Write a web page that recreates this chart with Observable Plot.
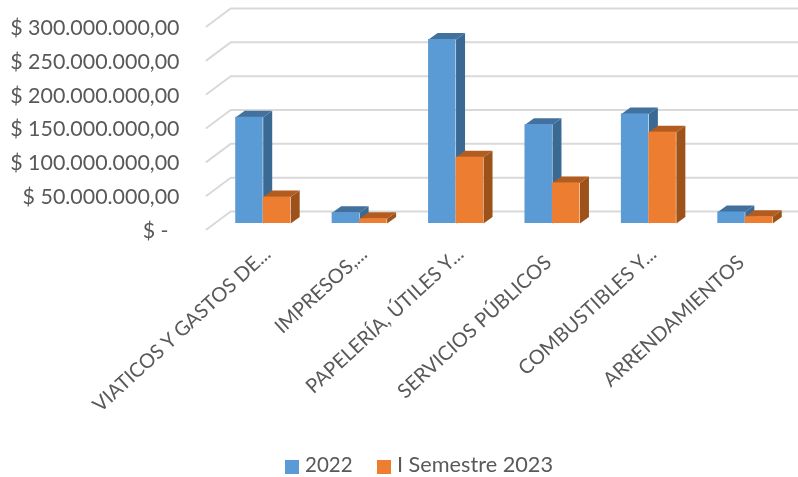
<!DOCTYPE html>
<html><head><meta charset="utf-8">
<script src="https://cdn.jsdelivr.net/npm/d3@7"></script>
<script src="https://cdn.jsdelivr.net/npm/@observablehq/plot@0.6"></script>
<style>
html,body{margin:0;padding:0;background:#fff;overflow:hidden}
#chart svg{display:block;filter:blur(.6px)}
#legend{position:absolute;left:0;top:455px;width:798px;height:22px;font:20.5px Lato,sans-serif;color:#595959;filter:blur(.4px)}
#legend i{position:absolute;top:5px;width:14px;height:14px}
#legend span{position:absolute;top:0;line-height:18px;white-space:nowrap}
</style></head><body>
<div id="chart"></div>
<div id="legend"></div>
<script>
const categories = ["VIATICOS Y GASTOS DE...", "IMPRESOS,...", "PAPELERÍA, ÚTILES Y...", "SERVICIOS PÚBLICOS", "COMBUSTIBLES Y...", "ARRENDAMIENTOS"];
const values2022 = [157e6, 16e6, 272e6, 146e6, 162e6, 17e6];
const valuesSem2023 = [39e6, 7e6, 98e6, 60e6, 135e6, 10e6];
const tickValues = [0, 50e6, 100e6, 150e6, 200e6, 250e6, 300e6];
const seriesNames = ["2022", "I Semestre 2023"];
const colors = {front: ["#5B9BD5", "#ED7D31"], side: ["#3A6A94", "#9C5219"], top: ["#41719C", "#B25C20"]};

const barW = 0.285, depthX = 0.0934, depthY = 9.6e6;
const wallFrontX = -0.088, wallBackX = 0.1625, gridEndX = 6.06;
const wallFrontY = -8.9e6, wallBackY = 17.7e6;

const tickLabel = v => v === 0 ? "$ -\u00a0\u00a0" : "$ " + d3.format(",")(v).replace(/,/g, ".") + ",00";

const grid = tickValues.flatMap(v => [
  {id: v, x: wallFrontX, y: v + wallFrontY},
  {id: v, x: wallBackX, y: v + wallBackY},
  {id: v, x: gridEndX, y: v + wallBackY}
]);

function faces(vals, s) {
  const left = i => i + 0.5 + (s - 1) * barW, right = i => i + 0.5 + s * barW;
  const side = [], top = [], front = [];
  vals.forEach((v, i) => {
    const l = left(i), r = right(i);
    side.push({id: i, x: r, y: 0}, {id: i, x: r + depthX, y: depthY}, {id: i, x: r + depthX, y: v + depthY}, {id: i, x: r, y: v});
    top.push({id: i, x: l, y: v}, {id: i, x: l + depthX, y: v + depthY}, {id: i, x: r + depthX, y: v + depthY}, {id: i, x: r, y: v});
    front.push({id: i, x1: l, x2: r, y1: 0, y2: v});
  });
  return {side, top, front};
}
const seriesMarks = [values2022, valuesSem2023].flatMap((vals, s) => {
  const f = faces(vals, s);
  return [
    Plot.line(f.side, {x: "x", y: "y", z: "id", fill: colors.side[s], stroke: "none"}),
    Plot.line(f.top, {x: "x", y: "y", z: "id", fill: colors.top[s], stroke: "none"}),
    Plot.rect(f.front, {x1: "x1", x2: "x2", y1: "y1", y2: "y2", fill: colors.front[s]})
  ];
});

const catOptions = {x: d => categories.indexOf(d) + 0.5, y: () => 0, text: d => d, rotate: -42.5, textAnchor: "end",
  fontSize: 20, fontFamily: "Lato, sans-serif", fill: "#595959"};

const chart = Plot.plot({
  width: 798, height: 455,
  marginLeft: 179, marginRight: 0, marginTop: 0, marginBottom: 0,
  style: {background: "#fff", overflow: "visible"},
  x: {type: "linear", domain: [0, 6], range: [214.5, 793], axis: null},
  y: {type: "linear", domain: [0, 300e6], range: [223, 20], axis: null},
  marks: [
    Plot.line(grid, {x: "x", y: "y", z: "id", stroke: "#D9D9D9", strokeWidth: 2}),
    ...seriesMarks,
    Plot.axisY({ticks: tickValues, tickFormat: tickLabel, tickSize: 0, tickPadding: 0, dy: 7.5, anchor: "left",
      fontSize: 21.4, fontFamily: "Lato, sans-serif", color: "#595959", fill: "#595959", label: null}),
    Plot.text(categories.filter(d => d.endsWith("...")), {...catOptions, dx: 4.5, dy: 27.5}),
    Plot.text(categories.filter(d => !d.endsWith("...")), {...catOptions, dx: -4, dy: 36})
  ]
});
document.getElementById("chart").append(chart);

const legend = document.getElementById("legend");
[[285, 305, 20.5], [377, 397, 21.7]].forEach(([sx, tx, fs], s) => {
  const sw = document.createElement("i");
  sw.style.left = sx + "px"; sw.style.background = colors.front[s];
  const t = document.createElement("span");
  t.style.left = tx + "px"; t.style.fontSize = fs + "px"; t.textContent = seriesNames[s];
  legend.append(sw, t);
});
</script>
</body></html>
